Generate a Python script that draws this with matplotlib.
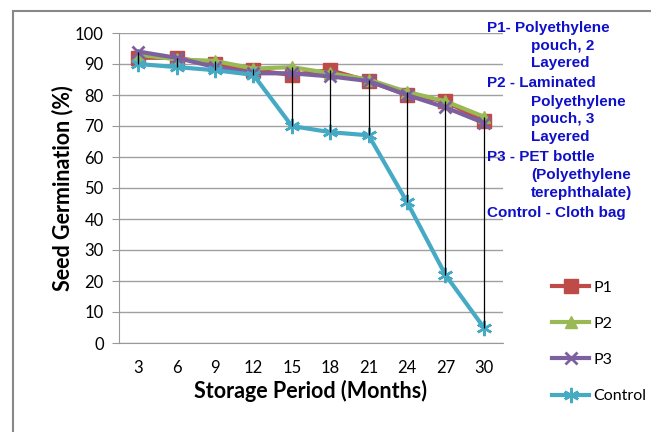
import matplotlib
matplotlib.use("Agg")
import matplotlib.pyplot as plt
from matplotlib.patches import Rectangle

months = [3, 6, 9, 12, 15, 18, 21, 24, 27, 30]
p1 = [92, 92, 90, 88, 86.5, 88, 84.5, 80, 78, 71.5]
p2 = [93, 91.5, 91, 88.5, 89, 87, 85, 81, 78, 73]
p3 = [94, 92, 89, 87, 87, 86, 84.5, 80, 76, 71]
control = [90, 89, 88, 86.5, 70, 68, 67, 45.5, 22, 5]

notes = [
    ("P1- Polyethylene", 0),
    ("pouch, 2", 1),
    ("Layered", 1),
    ("P2 - Laminated", 0),
    ("Polyethylene", 1),
    ("pouch, 3", 1),
    ("Layered", 1),
    ("P3 - PET bottle", 0),
    ("(Polyethylene", 1),
    ("terephthalate)", 1),
    ("Control - Cloth bag", 0),
]
note_y = [28, 46, 63, 83, 102, 119, 137, 157, 175, 193, 213]

W, H = 651, 432
fig = plt.figure(figsize=(W / 100, H / 100), dpi=100)
fig.patches.append(Rectangle((13 / W, -0.1), 1.2, 1 - 11 / H + 0.1, transform=fig.transFigure,
                             fill=False, edgecolor="#888888", linewidth=1.5))

ax = fig.add_axes([119 / W, 1 - 343 / H, (503 - 119) / W, (343 - 33) / H])
x = list(range(len(months)))

# high-low lines
for i in x:
    vals = [p1[i], p2[i], p3[i], control[i]]
    ax.vlines(i, min(vals), max(vals), color="black", linewidth=0.9, zorder=5)

ax.plot(x, p1, color="#BE4B48", marker="s", markersize=10, linewidth=3, label="P1", zorder=2)
ax.plot(x, p2, color="#98B954", marker="^", markersize=9, linewidth=3, label="P2", zorder=3)
ax.plot(x, p3, color="#7D60A0", marker="x", markersize=9, markeredgewidth=2,
        linewidth=3, label="P3", zorder=4)
ax.plot(x, control, color="#46AAC5", marker=(6, 2, 0), markersize=11, markeredgewidth=1.8,
        linewidth=3, label="Control", zorder=4)

ax.set_xlim(-0.5, len(months) - 0.5)
ax.set_ylim(0, 100)
ax.set_yticks(range(0, 101, 10))
ax.set_xticks(x)
ax.set_xticklabels(months)
ax.grid(axis="y", color="#A0A0A0", linewidth=1)
ax.set_axisbelow(True)
for s in ["top", "right"]:
    ax.spines[s].set_visible(False)
ax.spines["left"].set_color("#999999")
ax.spines["bottom"].set_color("#999999")
ax.tick_params(axis="y", length=5, color="#999999", labelsize=12, pad=6)
ax.tick_params(axis="x", length=0, labelsize=12, pad=12)
for lab in ax.get_xticklabels() + ax.get_yticklabels():
    lab.set_family("Lato")
ax.set_xlabel("Storage Period (Months)", fontsize=15.5, fontweight="bold", family="Lato", labelpad=3)
ax.set_ylabel("Seed Germination (%)", fontsize=15.5, fontweight="bold", family="Lato", labelpad=1)

leg = ax.legend(loc="upper left", bbox_to_anchor=(538 / W, 1 - 266 / H), bbox_transform=fig.transFigure,
                frameon=False, handlelength=2.3, labelspacing=1.38, handletextpad=0.25,
                prop={"family": "Lato", "size": 11.5})

for (txt, indent), yp in zip(notes, note_y):
    xp = 531 if indent else 487
    fig.text(xp / W, 1 - yp / H, txt, fontsize=11, fontweight="bold", color="#1010C8",
             family="Liberation Sans", ha="left", va="center")

fig.savefig("out.png", dpi=100)
